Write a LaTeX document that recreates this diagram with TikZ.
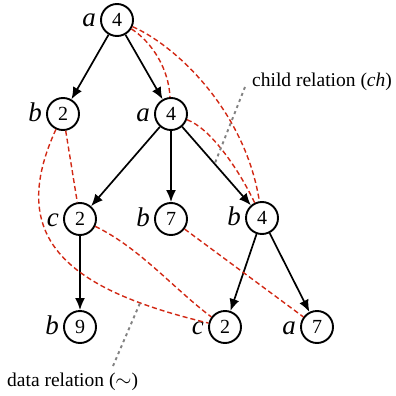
\documentclass[tikz,border=0pt]{standalone}
\usepackage{fontspec}
\setmainfont{Liberation Serif}
\usetikzlibrary{arrows.meta}
\definecolor{datared}{RGB}{210,40,20}
\definecolor{ptrgray}{RGB}{130,130,130}
\begin{document}
\begin{tikzpicture}[x=1pt,y=-1pt,
  vtx/.style={circle,draw,fill=white,line width=1.9pt,minimum size=32pt,inner sep=0pt,font=\fontsize{20}{20}\selectfont},
  lab/.style={label={[anchor=base east,xshift=-4pt,yshift=-7pt,inner sep=0pt,font=\fontsize{27}{27}\selectfont\itshape]left:#1}},
  arr/.style={-{Latex[length=12pt,width=10pt]},line width=1.7pt},
  datarel/.style={datared,line width=1.4pt,dash pattern=on 5pt off 3pt},
  ptr/.style={ptrgray,line width=1.9pt,dash pattern=on 3pt off 3.5pt},
  txt/.style={font=\fontsize{19.5}{19.5}\selectfont,inner sep=0pt,anchor=west}]
\useasboundingbox (0,0) rectangle (396,396);
% nodes
\node[vtx,lab=a] (r) at (117,20) {4};
\node[vtx,lab=b] (b2) at (63,114) {2};
\node[vtx,lab=a] (a4) at (171,114) {4};
\node[vtx,lab=c] (c2) at (80,219) {2};
\node[vtx,lab=b] (b7) at (171,219) {7};
\node[vtx,lab=b] (b4) at (262,218) {4};
\node[vtx,lab=b] (b9) at (80,327) {9};
\node[vtx,lab=c] (c2b) at (225,327) {2};
\node[vtx,lab=a] (a7) at (317,327) {7};
% child relation
\draw[arr] (r) -- (b2);
\draw[arr] (r) -- (a4);
\draw[arr] (a4) -- (c2);
\draw[arr] (a4) -- (b7);
\draw[arr] (a4) -- (b4);
\draw[arr] (c2) -- (b9);
\draw[arr] (b4) -- (c2b);
\draw[arr] (b4) -- (a7);
% data relation
\draw[datarel] (r) .. controls (146,38) and (168,62) .. (a4);
\draw[datarel] (r) .. controls (175,45) and (245,110) .. (b4);
\draw[datarel] (a4) .. controls (210,128) and (238,168) .. (b4);
\draw[datarel] (b2) -- (c2);
\draw[datarel] (b2) .. controls (5,240) and (70,290) .. (c2b);
\draw[datarel] (c2) .. controls (140,248) and (175,290) .. (c2b);
\draw[datarel] (b7) -- (a7);
% annotations
\node[txt] (chlab) at (252,82) {child relation (\textit{ch})};
\node[txt] (dtlab) at (7,382) {data relation ($\sim$)};
\coordinate (chs) at (245,87);
\coordinate (cht) at (215,163);
\coordinate (dts) at (113,366);
\coordinate (dtt) at (140,303);
\draw[ptr] (chs) -- (cht);
\draw[ptr] (dts) -- (dtt);
\end{tikzpicture}
\end{document}
